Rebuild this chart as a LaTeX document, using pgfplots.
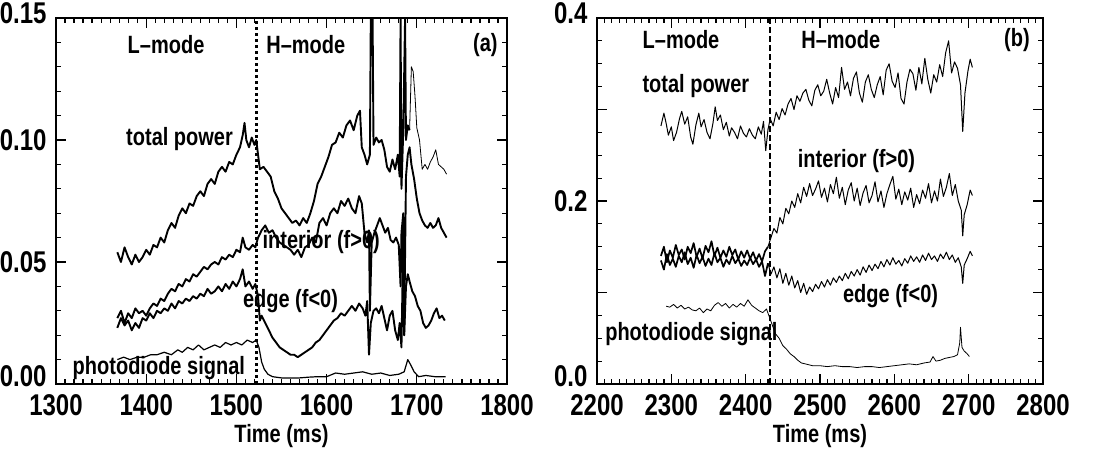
\documentclass[border=0pt]{standalone}
\usepackage{fontspec}
\setmainfont{Liberation Sans}[FakeStretch=0.8]
\usepackage{pgfplots}
\pgfplotsset{compat=1.18}
\begin{document}
\fontsize{25}{28}\selectfont\bfseries
\begin{tikzpicture}
\useasboundingbox (0,0) rectangle (1113pt,453pt);
\pgfplotsset{
  myax/.style={
    scale only axis, clip=true,
    height=366pt,
    axis line style={line width=1.6pt},
    every tick/.style={line width=1.2pt, black},
    major tick length=10pt, minor tick length=5pt,
    tick align=inside, xtick pos=both, ytick pos=both,
    minor x tick num=9,
    /pgf/number format/assume math mode=true,
    xticklabel style={/pgf/number format/set thousands separator={}, yshift=-2pt},
    yticklabel style={xshift=-1pt},
    tick label style={font=\fontsize{30}{32}\selectfont\bfseries},
    label style={font=\fontsize{25}{28}\selectfont\bfseries},
    xlabel={Time (ms)},
    xlabel style={yshift=8pt},
    every axis plot/.append style={black, line join=round},
  }
}
% ---------------- panel (a)
\begin{axis}[myax, at={(56pt,69pt)}, anchor=south west, width=451pt,
  xmin=1300, xmax=1800, ymin=0, ymax=0.15,
  xtick={1300,1400,...,1800},
  ytick={0,0.05,0.10,0.15}, minor y tick num=4,
  yticklabels={\raisebox{15pt}{0.00},0.05,0.10,\raisebox{10pt}{0.15}},
]
% total power (thick part)
\addplot[line width=1.9pt] coordinates {
(1368,0.054)(1372,0.050)(1376,0.056)(1380,0.052)(1384,0.049)(1388,0.053)(1392,0.050)(1396,0.052)
(1400,0.055)(1404,0.053)(1408,0.057)(1412,0.056)(1416,0.060)(1420,0.058)(1424,0.063)(1428,0.066)
(1432,0.064)(1436,0.069)(1440,0.072)(1444,0.070)(1448,0.074)(1452,0.073)(1456,0.077)(1460,0.079)
(1464,0.077)(1468,0.082)(1472,0.084)(1476,0.082)(1480,0.087)(1484,0.089)(1488,0.087)(1492,0.091)
(1496,0.090)(1500,0.094)(1504,0.097)(1507,0.102)(1509,0.107)(1511,0.100)(1514,0.097)(1517,0.101)
(1520,0.098)(1522,0.100)(1524,0.094)(1526,0.088)(1530,0.089)(1534,0.087)(1538,0.085)(1542,0.079)
(1546,0.076)(1550,0.072)(1554,0.070)(1558,0.068)(1562,0.066)(1566,0.067)(1570,0.065)(1574,0.068)
(1578,0.066)(1582,0.070)(1586,0.075)(1590,0.082)(1594,0.085)(1598,0.089)(1602,0.093)(1606,0.098)
(1610,0.099)(1614,0.103)(1618,0.101)(1622,0.106)(1626,0.108)(1630,0.104)(1634,0.110)(1637,0.112)
(1639,0.097)(1642,0.094)(1645,0.090)(1648,0.094)(1649,0.150)(1651,0.150)(1652,0.098)(1655,0.101)
(1658,0.099)(1661,0.100)(1664,0.096)(1667,0.089)(1670,0.087)(1673,0.092)(1676,0.088)(1679,0.094)
(1681,0.085)(1682,0.150)(1683,0.080)(1685,0.104)(1687,0.150)(1688,0.100)(1690,0.106)(1692,0.104)
};
% total power (thin part)
\addplot[line width=0.8pt] coordinates {
(1692,0.104)(1694,0.130)(1696,0.128)(1698,0.118)(1700,0.105)(1703,0.100)(1706,0.088)(1709,0.090)
(1712,0.088)(1715,0.091)(1718,0.093)(1721,0.096)(1724,0.090)(1727,0.089)(1730,0.088)(1733,0.086)
};
% interior
\addplot[line width=1.9pt] coordinates {
(1368,0.027)(1372,0.030)(1376,0.025)(1380,0.029)(1384,0.027)(1388,0.031)(1392,0.029)(1396,0.030)
(1400,0.028)(1404,0.031)(1408,0.033)(1412,0.032)(1416,0.035)(1420,0.034)(1424,0.037)(1428,0.039)
(1432,0.038)(1436,0.041)(1440,0.040)(1444,0.043)(1448,0.042)(1452,0.045)(1456,0.044)(1460,0.046)
(1464,0.048)(1468,0.047)(1472,0.049)(1476,0.050)(1480,0.049)(1484,0.052)(1488,0.051)(1492,0.053)
(1496,0.052)(1500,0.055)(1504,0.054)(1507,0.060)(1510,0.056)(1514,0.055)(1518,0.057)(1521,0.056)
(1524,0.060)(1528,0.063)(1532,0.065)(1536,0.062)(1540,0.063)(1544,0.060)(1548,0.058)(1552,0.057)
(1556,0.056)(1560,0.055)(1564,0.053)(1568,0.055)(1572,0.052)(1576,0.056)(1580,0.057)(1584,0.060)
(1588,0.058)(1592,0.066)(1596,0.068)(1600,0.065)(1604,0.070)(1608,0.072)(1612,0.070)(1616,0.075)
(1620,0.073)(1624,0.076)(1628,0.072)(1632,0.070)(1636,0.077)(1639,0.074)(1642,0.062)(1645,0.058)
(1647,0.063)(1648,0.030)(1650,0.058)(1653,0.062)(1656,0.065)(1659,0.068)(1662,0.065)(1665,0.062)
(1668,0.064)(1671,0.059)(1674,0.058)(1677,0.060)(1680,0.057)(1682,0.040)(1683,0.062)(1685,0.070)
(1686,0.020)(1688,0.085)(1690,0.094)(1692,0.097)(1694,0.090)(1697,0.084)(1700,0.076)(1703,0.070)
(1706,0.067)(1709,0.065)(1712,0.064)(1715,0.066)(1718,0.064)(1721,0.065)(1724,0.068)(1727,0.064)
(1730,0.062)(1733,0.060)
};
% edge
\addplot[line width=1.9pt] coordinates {
(1368,0.023)(1372,0.027)(1376,0.024)(1380,0.026)(1384,0.022)(1388,0.025)(1392,0.023)(1396,0.027)
(1400,0.026)(1404,0.029)(1408,0.027)(1412,0.030)(1416,0.029)(1420,0.031)(1424,0.030)(1428,0.033)
(1432,0.031)(1436,0.034)(1440,0.033)(1444,0.035)(1448,0.034)(1452,0.036)(1456,0.035)(1460,0.037)
(1464,0.036)(1468,0.039)(1472,0.037)(1476,0.038)(1480,0.040)(1484,0.038)(1488,0.041)(1492,0.039)
(1496,0.042)(1500,0.040)(1504,0.043)(1507,0.047)(1510,0.040)(1514,0.042)(1518,0.039)(1521,0.041)
(1524,0.036)(1526,0.026)(1528,0.028)(1532,0.025)(1536,0.022)(1540,0.019)(1544,0.017)(1548,0.015)
(1552,0.014)(1556,0.013)(1560,0.012)(1564,0.012)(1568,0.011)(1572,0.012)(1576,0.013)(1580,0.014)
(1584,0.015)(1588,0.017)(1592,0.018)(1596,0.020)(1600,0.022)(1604,0.024)(1608,0.026)(1612,0.027)
(1616,0.029)(1620,0.028)(1624,0.030)(1628,0.032)(1632,0.030)(1636,0.033)(1640,0.031)(1643,0.028)
(1645,0.034)(1647,0.012)(1649,0.025)(1652,0.030)(1655,0.031)(1658,0.029)(1661,0.032)(1664,0.027)
(1667,0.022)(1670,0.028)(1673,0.030)(1676,0.022)(1679,0.018)(1681,0.025)(1683,0.015)(1685,0.060)
(1686,0.020)(1688,0.040)(1690,0.045)(1692,0.042)(1695,0.038)(1698,0.036)(1701,0.032)(1704,0.030)
(1707,0.025)(1710,0.023)(1713,0.024)(1716,0.026)(1719,0.029)(1722,0.031)(1725,0.027)(1728,0.028)
(1731,0.026)
};
% photodiode
\addplot[line width=1.2pt] coordinates {
(1368,0.010)(1375,0.011)(1382,0.010)(1390,0.011)(1398,0.011)(1405,0.012)(1412,0.012)(1420,0.013)
(1428,0.012)(1435,0.014)(1440,0.013)(1446,0.015)(1452,0.014)(1458,0.016)(1464,0.014)(1470,0.015)
(1476,0.016)(1482,0.015)(1488,0.017)(1494,0.016)(1500,0.017)(1506,0.016)(1512,0.018)(1518,0.017)
(1522,0.018)(1525,0.015)(1528,0.009)(1531,0.006)(1535,0.004)(1540,0.003)(1550,0.0025)(1560,0.0025)
(1570,0.0025)(1580,0.0028)(1590,0.003)(1600,0.003)(1610,0.0045)(1620,0.004)(1630,0.0045)(1640,0.005)
(1650,0.004)(1660,0.0045)(1670,0.0035)(1680,0.004)(1686,0.005)(1690,0.010)(1693,0.008)(1697,0.005)
(1702,0.003)(1710,0.0035)(1720,0.0030)(1732,0.0030)
};
% transition
\addplot[line width=3pt, dash pattern=on 3pt off 3pt] coordinates {(1522,0)(1522,0.15)};
\node at (axis cs:1422,0.139) {L--mode};
\node at (axis cs:1577,0.139) {H--mode};
\node at (axis cs:1776,0.139) {(a)};
\node at (axis cs:1437,0.1006) {total power};
\node at (axis cs:1594,0.058) {interior (f>0)};
\node at (axis cs:1560,0.034) {edge (f<0)};
\node at (axis cs:1414,0.0064) {photodiode signal};
\end{axis}
% ---------------- panel (b)
\begin{axis}[myax, at={(597pt,69pt)}, anchor=south west, width=446pt,
  xmin=2200, xmax=2800, ymin=0, ymax=0.4,
  xtick={2200,2300,...,2800},
  ytick={0,0.1,0.2,0.3,0.4}, minor y tick num=3,
  yticklabels={\raisebox{15pt}{0.0},,0.2,,\raisebox{10pt}{0.4}},
]
% total power
\addplot[line width=1pt] coordinates {
(2286,0.282)(2290,0.296)(2293,0.285)(2296,0.272)(2300,0.281)(2303,0.266)(2307,0.275)(2311,0.290)
(2314,0.298)(2318,0.284)(2322,0.292)(2326,0.270)(2329,0.262)(2333,0.283)(2337,0.296)(2340,0.281)
(2344,0.289)(2348,0.275)(2352,0.268)(2356,0.285)(2359,0.303)(2362,0.288)(2366,0.294)(2370,0.278)
(2374,0.286)(2378,0.271)(2381,0.280)(2385,0.275)(2389,0.268)(2393,0.282)(2397,0.274)(2401,0.270)
(2405,0.279)(2409,0.272)(2413,0.268)(2417,0.281)(2421,0.273)(2424,0.287)(2427,0.255)(2430,0.278)
(2433,0.290)(2437,0.282)(2441,0.297)(2445,0.289)(2449,0.301)(2453,0.294)(2457,0.306)(2461,0.312)
(2465,0.300)(2469,0.315)(2473,0.309)(2477,0.318)(2481,0.322)(2485,0.310)(2489,0.304)(2493,0.321)
(2497,0.327)(2501,0.315)(2505,0.320)(2509,0.333)(2513,0.318)(2517,0.306)(2521,0.324)(2525,0.313)
(2529,0.346)(2533,0.322)(2537,0.330)(2541,0.315)(2545,0.334)(2549,0.341)(2553,0.318)(2557,0.308)
(2561,0.330)(2565,0.338)(2569,0.322)(2573,0.313)(2577,0.327)(2581,0.336)(2585,0.316)(2589,0.343)
(2593,0.350)(2597,0.331)(2601,0.324)(2605,0.340)(2609,0.312)(2613,0.306)(2617,0.330)(2621,0.344)
(2625,0.339)(2629,0.321)(2633,0.346)(2637,0.328)(2641,0.356)(2645,0.333)(2649,0.318)(2653,0.338)
(2657,0.330)(2661,0.349)(2665,0.336)(2669,0.362)(2673,0.375)(2677,0.340)(2681,0.352)(2685,0.345)
(2689,0.327)(2692,0.276)(2695,0.318)(2699,0.342)(2702,0.355)(2705,0.346)
};
% interior, L-mode part (overlaps edge: dense band)
\addplot[line width=1.7pt] coordinates {
(2286,0.140)(2290,0.150)(2294,0.133)(2298,0.146)(2302,0.138)(2306,0.152)(2310,0.141)(2314,0.147)
(2318,0.136)(2322,0.150)(2326,0.143)(2330,0.154)(2334,0.139)(2338,0.148)(2342,0.137)(2346,0.151)
(2350,0.144)(2354,0.156)(2358,0.140)(2362,0.149)(2366,0.138)(2370,0.146)(2374,0.139)(2378,0.150)
(2382,0.141)(2386,0.147)(2390,0.136)(2394,0.145)(2398,0.138)(2402,0.146)(2406,0.137)(2410,0.144)
(2414,0.135)(2418,0.142)(2422,0.134)(2426,0.145)(2430,0.150)
};
% interior, H-mode part
\addplot[line width=1pt] coordinates {
(2430,0.150)(2434,0.160)(2438,0.170)(2442,0.165)
(2446,0.182)(2450,0.175)(2454,0.192)(2458,0.186)(2462,0.200)(2466,0.193)(2470,0.208)(2474,0.198)
(2478,0.215)(2482,0.205)(2486,0.219)(2490,0.206)(2494,0.213)(2498,0.222)(2502,0.204)(2506,0.214)
(2510,0.199)(2514,0.218)(2518,0.208)(2522,0.226)(2526,0.203)(2530,0.215)(2534,0.196)(2538,0.212)
(2542,0.220)(2546,0.200)(2550,0.214)(2554,0.195)(2558,0.209)(2562,0.217)(2566,0.198)(2570,0.206)
(2574,0.221)(2578,0.199)(2582,0.211)(2586,0.193)(2590,0.208)(2594,0.218)(2598,0.227)(2602,0.202)
(2606,0.213)(2610,0.196)(2614,0.210)(2618,0.201)(2622,0.214)(2626,0.193)(2630,0.207)(2634,0.197)
(2638,0.212)(2642,0.203)(2646,0.219)(2650,0.198)(2654,0.211)(2658,0.200)(2662,0.224)(2666,0.205)
(2670,0.215)(2674,0.230)(2678,0.206)(2682,0.218)(2686,0.200)(2690,0.190)(2692,0.162)(2694,0.185)
(2698,0.196)(2702,0.212)(2705,0.206)
};
% edge, L-mode part
\addplot[line width=1.7pt] coordinates {
(2286,0.135)(2290,0.125)(2294,0.142)(2298,0.130)(2302,0.137)(2306,0.128)(2310,0.140)(2314,0.133)
(2318,0.144)(2322,0.131)(2326,0.138)(2330,0.127)(2334,0.141)(2338,0.132)(2342,0.139)(2346,0.129)
(2350,0.137)(2354,0.130)(2358,0.143)(2362,0.133)(2366,0.138)(2370,0.128)(2374,0.136)(2378,0.131)
(2382,0.140)(2386,0.132)(2390,0.137)(2394,0.129)(2398,0.135)(2402,0.130)(2406,0.138)(2410,0.131)
(2414,0.136)(2418,0.128)(2422,0.134)(2426,0.118)(2430,0.132)
};
% edge, H-mode part
\addplot[line width=1pt] coordinates {
(2430,0.132)(2434,0.120)(2438,0.128)(2442,0.116)
(2446,0.126)(2450,0.110)(2454,0.121)(2458,0.108)(2462,0.118)(2466,0.105)(2470,0.113)(2474,0.100)
(2478,0.110)(2482,0.098)(2486,0.106)(2490,0.101)(2494,0.109)(2498,0.104)(2502,0.112)(2506,0.106)
(2510,0.114)(2514,0.108)(2518,0.116)(2522,0.111)(2526,0.118)(2530,0.113)(2534,0.121)(2538,0.115)
(2542,0.123)(2546,0.118)(2550,0.125)(2554,0.119)(2558,0.128)(2562,0.122)(2566,0.130)(2570,0.124)
(2574,0.131)(2578,0.126)(2582,0.134)(2586,0.128)(2590,0.136)(2594,0.130)(2598,0.138)(2602,0.131)
(2606,0.135)(2610,0.129)(2614,0.137)(2618,0.132)(2622,0.140)(2626,0.134)(2630,0.139)(2634,0.133)
(2638,0.141)(2642,0.135)(2646,0.143)(2650,0.136)(2654,0.140)(2658,0.134)(2662,0.142)(2666,0.137)
(2670,0.144)(2674,0.136)(2678,0.141)(2682,0.133)(2686,0.138)(2690,0.128)(2692,0.110)(2694,0.130)
(2698,0.137)(2702,0.145)(2705,0.140)
};
% photodiode
\addplot[line width=0.8pt] coordinates {
(2293,0.085)(2298,0.084)(2303,0.087)(2308,0.083)(2313,0.086)(2318,0.082)(2323,0.084)(2328,0.081)
(2333,0.080)(2338,0.083)(2343,0.078)(2348,0.082)(2353,0.080)(2358,0.086)(2363,0.089)(2368,0.085)
(2373,0.088)(2378,0.083)(2383,0.087)(2388,0.084)(2393,0.088)(2398,0.085)(2403,0.092)(2408,0.086)
(2413,0.083)(2418,0.080)(2423,0.078)(2428,0.082)(2432,0.073)(2436,0.064)(2440,0.055)(2445,0.050)
(2450,0.042)(2455,0.038)(2460,0.033)(2465,0.030)(2470,0.026)(2475,0.023)(2480,0.022)(2490,0.020)
(2500,0.020)(2510,0.019)(2520,0.020)(2530,0.019)(2540,0.019)(2550,0.018)(2560,0.019)(2570,0.019)
(2580,0.018)(2590,0.019)(2600,0.020)(2610,0.021)(2620,0.022)(2630,0.021)(2640,0.023)(2648,0.024)
(2652,0.030)(2656,0.025)(2662,0.026)(2668,0.028)(2674,0.029)(2680,0.030)(2685,0.032)(2688,0.045)
(2689,0.062)(2691,0.040)(2694,0.036)(2698,0.033)(2701,0.030)
};
% transition
\addplot[line width=2pt, dash pattern=on 6pt off 3pt] coordinates {(2433,0)(2433,0.4)};
\node at (axis cs:2313,0.376) {L--mode};
\node at (axis cs:2528,0.376) {H--mode};
\node at (axis cs:2765,0.376) {(b)};
\node at (axis cs:2333,0.326) {total power};
\node at (axis cs:2549,0.244) {interior (f>0)};
\node at (axis cs:2595,0.096) {edge (f<0)};
\node at (axis cs:2327,0.055) {photodiode signal};
\end{axis}
\end{tikzpicture}
\end{document}
